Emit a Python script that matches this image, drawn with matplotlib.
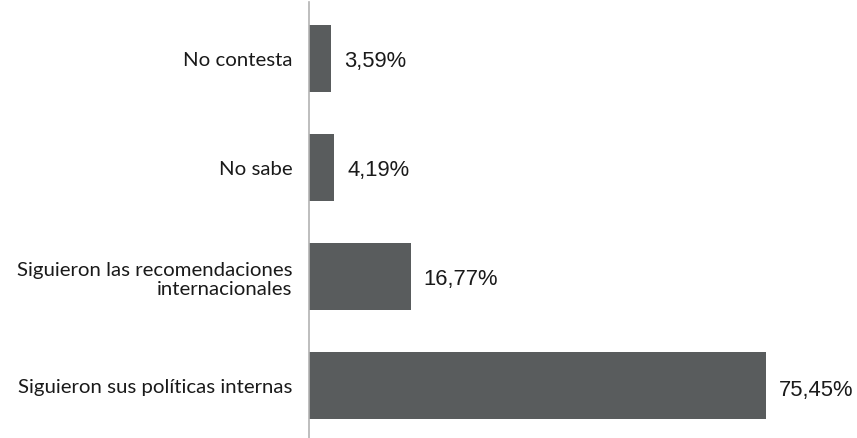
import matplotlib.pyplot as plt

categories = ["Siguieron sus políticas internas",
              "Siguieron las recomendaciones\ninternacionales",
              "No sabe",
              "No contesta"]
values = [75.45, 16.77, 4.19, 3.59]
labels = ["75,45%", "16,77%", "4,19%", "3,59%"]

fig = plt.figure(figsize=(8.57, 4.39), dpi=100)
ax = fig.add_axes([309 / 857, 0, 545 / 857, 436 / 439])

pos = list(range(len(categories)))
ax.barh(pos, values, height=0.615, color="#595c5d")
ax.set_xlim(0, 90)
ax.set_ylim(-0.486, 3.514)

for p, v, lab in zip(pos, values, labels):
    dy = -4 if p == 0 else -2
    ax.annotate(lab, (v, p), xytext=(13, dy), textcoords="offset pixels",
                ha="left", va="center", fontsize=15.8,
                family="Liberation Sans", color="#1a1a1a")

ax.set_yticks(pos)
ax.set_yticklabels(categories, family="Lato", fontsize=14.7, color="#1a1a1a",
                   ha="right", multialignment="right", linespacing=1.15)
ax.tick_params(axis="y", length=0, pad=12)
ax.set_xticks([])
for s in ["top", "right", "bottom"]:
    ax.spines[s].set_visible(False)
ax.spines["left"].set_color("#b3b3b3")
ax.spines["left"].set_linewidth(1.2)

fig.savefig("out.png", dpi=100)
